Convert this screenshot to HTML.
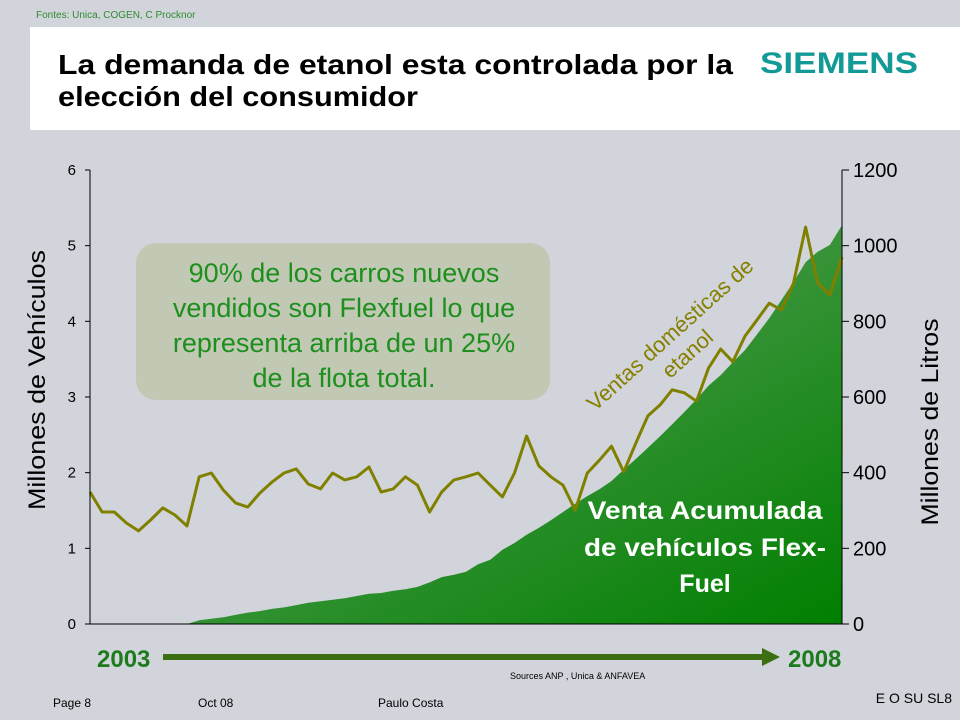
<!DOCTYPE html>
<html><head><meta charset="utf-8"><style>
html,body{margin:0;padding:0;background:#d2d4db;}
svg{display:block;font-family:"Liberation Sans",sans-serif;}
</style></head><body>
<svg id="c" width="960" height="720" viewBox="0 0 960 720">
<defs>
<linearGradient id="g" x1="0" y1="0" x2="1" y2="1">
<stop offset="0" stop-color="#4a9e45"/><stop offset="0.5" stop-color="#3a943a"/><stop offset="1" stop-color="#007f00"/>
</linearGradient>
</defs>
<rect width="960" height="720" fill="#d2d4db"/>
<text x="36" y="18" font-size="10" fill="#2e8b2e">Fontes: Unica, COGEN, C Procknor</text>
<rect x="30" y="27" width="930" height="103" fill="#fff"/>
<text x="58" y="74" font-size="28" font-weight="bold" fill="#000" textLength="675" lengthAdjust="spacingAndGlyphs">La demanda de etanol esta controlada por la</text>
<text x="58" y="106" font-size="28" font-weight="bold" fill="#000" textLength="360" lengthAdjust="spacingAndGlyphs">elección del consumidor</text>
<text x="760" y="73" font-size="30" font-weight="bold" fill="#139a96" textLength="158" lengthAdjust="spacingAndGlyphs">SIEMENS</text>
<g id="plot"></g>
<rect x="136" y="243" width="414" height="157" rx="20" fill="#c1c8b4"/>
<g font-size="27" fill="#1d8f1d" text-anchor="middle">
<text x="344" y="282">90%  de los carros nuevos</text>
<text x="344" y="317">vendidos son Flexfuel lo que</text>
<text x="344" y="352">representa arriba de un 25%</text>
<text x="344" y="387">de la flota total.</text>
</g>
<g font-size="22" fill="#858000" text-anchor="middle" transform="translate(675,340) rotate(-42)">
<text x="0" y="0">Ventas domésticas de</text><text x="0" y="26">etanol</text>
</g>
<g font-size="25" font-weight="bold" fill="#fff" text-anchor="middle">
<text x="705" y="519" textLength="235" lengthAdjust="spacingAndGlyphs">Venta Acumulada</text>
<text x="705" y="556" textLength="242" lengthAdjust="spacingAndGlyphs">de vehículos Flex-</text>
<text x="705" y="592">Fuel</text>
</g>
<text transform="translate(45,380) rotate(-90)" font-size="24" text-anchor="middle" fill="#000" textLength="260" lengthAdjust="spacingAndGlyphs">Millones de Vehículos</text>
<text transform="translate(938,422) rotate(-90)" font-size="24" text-anchor="middle" fill="#000" textLength="207" lengthAdjust="spacingAndGlyphs">Millones de Litros</text>
<text x="97" y="667" font-size="24" font-weight="bold" fill="#1d7a1d">2003</text>
<text x="788" y="667" font-size="24" font-weight="bold" fill="#1d7a1d">2008</text>
<line x1="163" y1="657" x2="765" y2="657" stroke="#3c6e12" stroke-width="6"/>
<polygon points="762,648 780,657 762,666" fill="#3c6e12"/>
<text x="510" y="679" font-size="9" fill="#000">Sources ANP , Unica &amp; ANFAVEA</text>
<text x="53" y="707" font-size="12" fill="#000">Page 8</text>
<text x="198" y="707" font-size="12" fill="#000">Oct 08</text>
<text x="378" y="707" font-size="12" fill="#000">Paulo Costa</text>
<text x="952" y="703" font-size="14" text-anchor="end" fill="#000">E O SU SL8</text>
</svg>
<script>
const leftTicks=[0,1,2,3,4,5,6];
const rightTicks=[0,200,400,600,800,1000,1200];
const vehicles=[0,0,0,0,0,0,0,0,0,0.05,0.07,0.09,0.12,0.15,0.17,0.2,0.22,0.25,0.28,0.3,0.32,0.34,0.37,0.4,0.41,0.44,0.46,0.49,0.55,0.62,0.65,0.69,0.79,0.85,0.98,1.07,1.18,1.27,1.37,1.48,1.59,1.69,1.78,1.89,2.04,2.18,2.33,2.48,2.64,2.8,2.97,3.15,3.29,3.46,3.62,3.83,4.04,4.28,4.52,4.78,4.92,5.01,5.27];
const ethanol=[349,296,296,267,246,275,307,288,259,389,399,354,320,309,346,375,399,410,370,357,399,381,389,415,349,357,389,367,296,349,381,389,399,367,336,399,497,418,389,367,301,399,433,470,402,478,550,579,619,611,589,677,727,693,761,804,848,830,901,1049,901,870,970];
const NS='http://www.w3.org/2000/svg';
const X0=90,X1=842,Y0=624,Y1=170;
const xs=i=>X0+(X1-X0)*i/(vehicles.length-1);
const yL=v=>Y0-(Y0-Y1)*v/6;
const yR=v=>Y0-(Y0-Y1)*v/1200;
const g=document.getElementById('plot');
function mk(t,a){const e=document.createElementNS(NS,t);for(const k in a)e.setAttribute(k,a[k]);g.appendChild(e);return e;}
let d='M'+xs(0)+','+Y0;
vehicles.forEach((v,i)=>{d+=' L'+xs(i).toFixed(1)+','+yL(v).toFixed(1);});
d+=' L'+X1+','+Y0+' Z';
const area=mk('path',{d:d,fill:'url(#g)'});


const pts=ethanol.map((v,i)=>xs(i).toFixed(1)+','+yR(v).toFixed(1)).join(' ');
const line=mk('polyline',{points:pts,fill:'none',stroke:'#808000','stroke-width':3,'stroke-linejoin':'round'});


const al=mk('line',{x1:X0,y1:Y1,x2:X0,y2:Y0,stroke:'#000','stroke-width':1});


const ar=mk('line',{x1:X1,y1:Y1,x2:X1,y2:Y0,stroke:'#000','stroke-width':1});


const ab=mk('line',{x1:X0-5,y1:Y0,x2:X1,y2:Y0,stroke:'#000','stroke-width':1});


leftTicks.forEach(t=>{
  const y=yL(t);
  const tk=mk('line',{x1:X0-5,y1:y,x2:X0,y2:y,stroke:'#000'});
  
  
  const tx=mk('text',{x:76,y:y+5,'font-size':15,'text-anchor':'end',fill:'#000'});
  tx.textContent=t;
  
  
});
rightTicks.forEach(t=>{
  const y=yR(t);
  const tk=mk('line',{x1:X1,y1:y,x2:X1+7,y2:y,stroke:'#000'});
  
  
  const tx=mk('text',{x:853,y:y+7,'font-size':20,fill:'#000'});
  tx.textContent=t;
  
  
});
</script>
</body></html>
